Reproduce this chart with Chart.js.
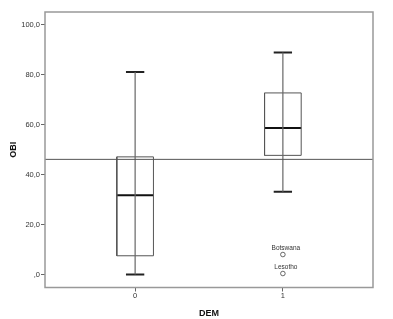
<!DOCTYPE html>
<html>
<head>
<meta charset="utf-8">
<script src="https://cdn.jsdelivr.net/npm/chart.js@4/dist/chart.umd.min.js"></script>
<style>
  html, body { margin: 0; padding: 0; background: #fff; }
  #wrap { width: 393px; height: 319px; }
</style>
</head>
<body>
<div id="wrap"><canvas id="box-chart" width="393" height="319"></canvas></div>
<script>
// === OBI by DEM box plot ===

const categories = [0, 1];
const whiskerLow = [0.1, 33.2];
const boxLow = [7.6, 47.8];
const medians = [31.8, 58.8];
const boxHigh = [47.2, 72.8];
const whiskerHigh = [81.2, 89.0];

const outlierNames = ['Botswana', 'Lesotho'];
const outlierCat = [1, 1];
const outlierValues = [8.1, 0.5];

const refValue = 46.2;
const yTicks = [0, 20, 40, 60, 80, 100];

const halfBox = 0.124;
const halfCap = 0.062;
const xMin = -0.61, xMax = 1.61;

const datasets = [];
const lineStyle = (color, width) => ({
  showLine: true, borderColor: color, borderWidth: width,
  pointRadius: 0, pointHoverRadius: 0, fill: false
});

// reference line
datasets.push({ data: [{ x: xMin, y: refValue }, { x: xMax, y: refValue }], ...lineStyle('#555', 1) });

categories.forEach((c, i) => {
  // whisker (full vertical line, box drawn on top, not filled)
  datasets.push({ data: [{ x: c, y: whiskerLow[i] }, { x: c, y: whiskerHigh[i] }], ...lineStyle('#666', 1.2) });
  // box
  datasets.push({
    data: [
      { x: c - halfBox, y: boxLow[i] }, { x: c + halfBox, y: boxLow[i] },
      { x: c + halfBox, y: boxHigh[i] }, { x: c - halfBox, y: boxHigh[i] },
      { x: c - halfBox, y: boxLow[i] }
    ],
    ...lineStyle('#555', 1)
  });
  // median
  datasets.push({ data: [{ x: c - halfBox, y: medians[i] }, { x: c + halfBox, y: medians[i] }], ...lineStyle('#111', 2) });
  // caps
  datasets.push({ data: [{ x: c - halfCap, y: whiskerLow[i] }, { x: c + halfCap, y: whiskerLow[i] }], ...lineStyle('#222', 2) });
  datasets.push({ data: [{ x: c - halfCap, y: whiskerHigh[i] }, { x: c + halfCap, y: whiskerHigh[i] }], ...lineStyle('#222', 2) });
});

// outliers
datasets.push({
  data: outlierValues.map((v, i) => ({ x: outlierCat[i], y: v })),
  showLine: false, pointStyle: 'circle', pointRadius: 2.3,
  borderColor: '#444', borderWidth: 0.8, backgroundColor: '#fff'
});

const framePlugin = {
  id: 'frame',
  afterDatasetsDraw(chart) {
    const { ctx, chartArea: a, scales } = chart;
    ctx.save();
    ctx.strokeStyle = '#999';
    ctx.lineWidth = 1.5;
    ctx.strokeRect(a.left, a.top, a.right - a.left, a.bottom - a.top);
    // outlier labels
    ctx.fillStyle = '#333';
    ctx.font = '6.5px "Liberation Sans", Arial, sans-serif';
    ctx.textAlign = 'center';
    ctx.textBaseline = 'bottom';
    outlierNames.forEach((name, i) => {
      const px = scales.x.getPixelForValue(outlierCat[i]);
      const py = scales.y.getPixelForValue(outlierValues[i]);
      ctx.fillText(name, px + 3, py - 3.5);
    });
    ctx.restore();
  }
};

new Chart(document.getElementById('box-chart').getContext('2d'), {
  type: 'scatter',
  data: { datasets },
  plugins: [framePlugin],
  options: {
    responsive: false,
    animation: false,
    layout: { padding: { top: 12, right: 20, left: 0, bottom: 0 } },
    plugins: { legend: { display: false }, tooltip: { enabled: false } },
    scales: {
      x: {
        type: 'linear', min: xMin, max: xMax,
        afterBuildTicks: s => { s.ticks = categories.map(v => ({ value: v })); },
        afterFit: s => { s.height = 31.5; },
        grid: { drawOnChartArea: false, tickLength: 4, color: '#666' },
        border: { display: false },
        ticks: {
          color: '#333', padding: 0,
          font: { size: 7.5, family: '"Liberation Sans", Arial, sans-serif' },
          callback: v => String(v)
        },
        title: {
          display: true, text: 'DEM', color: '#111', padding: { top: 2, bottom: 0 },
          font: { size: 9, weight: 'bold', family: '"Liberation Sans", Arial, sans-serif' }
        }
      },
      y: {
        min: -5.1, max: 105.2,
        afterBuildTicks: s => { s.ticks = yTicks.map(v => ({ value: v })); },
        afterFit: s => { s.width = 45; },
        grid: { drawOnChartArea: false, tickLength: 4, color: '#666' },
        border: { display: false },
        ticks: {
          color: '#333', padding: 1,
          font: { size: 7.5, family: '"Liberation Sans", Arial, sans-serif' },
          callback: v => v === 0 ? ',0' : v.toFixed(1).replace('.', ',')
        },
        title: {
          display: true, text: 'OBI', color: '#111', padding: { top: 8, bottom: 0 },
          font: { size: 9, weight: 'bold', family: '"Liberation Sans", Arial, sans-serif' }
        }
      }
    }
  }
});
</script>
</body>
</html>
